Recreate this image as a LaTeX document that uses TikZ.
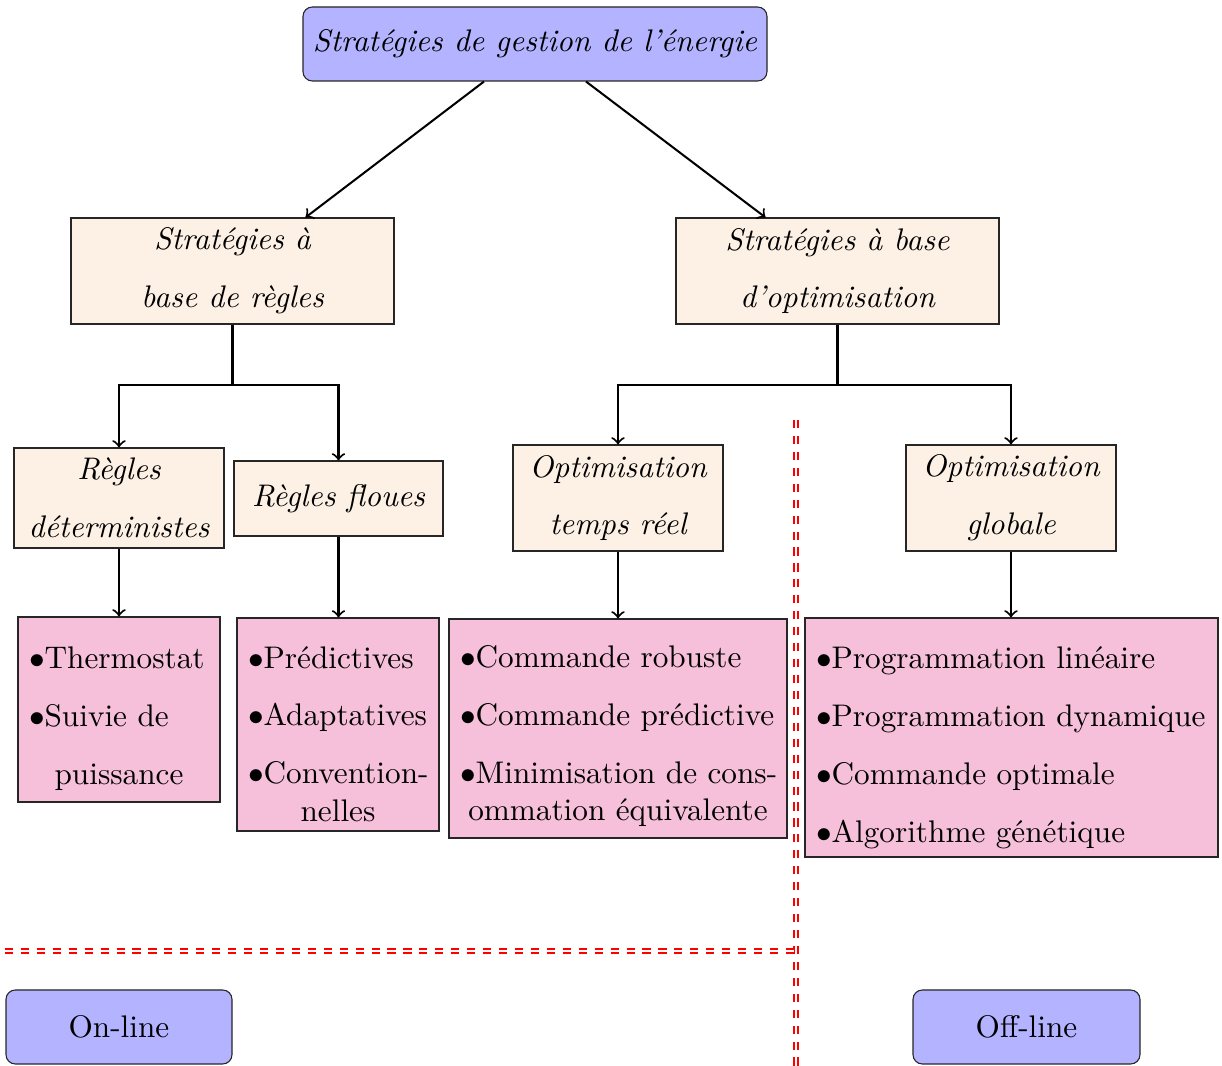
\documentclass[tikz,border=0pt]{standalone}
\usetikzlibrary{calc}
\definecolor{topblue}{RGB}{179,179,255}
\definecolor{beige}{RGB}{253,241,230}
\definecolor{pinkbox}{RGB}{246,192,218}
\tikzset{
  sz/.style 2 args={minimum width={#1*0.32pt}, minimum height={#2*0.32pt}},
  base/.style={draw=black!85, line width=0.35pt, inner sep=0pt, align=center},
  rootbox/.style={base, fill=topblue, rounded corners=3pt, font=\itshape},
  catbox/.style={base, fill=beige, font=\itshape},
  listbox/.style={draw=black!85, line width=0.35pt, fill=pinkbox, inner ysep=0pt, inner xsep=3.52pt, align=left},
  modebox/.style={base, fill=topblue, rounded corners=3pt},
  conn/.style={line width=0.65pt},
  arr/.style={conn, ->},
  sep/.style={draw=red, double=white, double distance=0.5pt, line width=0.6pt, dash pattern=on 2.6pt off 2.5pt}
}
\begin{document}
\begin{tikzpicture}[x=0.32pt,y=-0.32pt]
\useasboundingbox (0,0) rectangle (1222,1066);

\node[rootbox, sz={464}{74}] (root) at (535,44) {Stratégies de gestion de l'énergie};

\node[catbox, sz={323}{106}] (rb) at (232.5,271) {Stratégies à\\[6.5pt] base de règles};
\node[catbox, sz={323}{106}] (ob) at (837.5,271) {Stratégies à base\\[6.5pt] d'optimisation};

\node[catbox, sz={210}{100}] (rd) at (119,498) {Règles\\[6.5pt] déterministes};
\node[catbox, sz={209}{75}] (rf) at (338.5,498.5) {Règles floues};
\node[catbox, sz={210}{106}] (otr) at (618,498) {Optimisation\\[6.5pt] temps réel};
\node[catbox, sz={210}{106}] (og) at (1011,498) {Optimisation\\[6.5pt] globale};

\node[listbox, sz={202}{185}, text width=57.6pt] (p1) at (119,709.5)
  {\rule{0pt}{13pt}$\bullet$Thermostat\\[6.5pt] $\bullet$Suivie de\\[6.5pt] \hfill puissance\hfill\null};
\node[listbox, sz={202}{213}, text width=57.6pt] (p2) at (338,724.5)
  {\rule{0pt}{13pt}$\bullet$Prédictives\\[6.5pt] $\bullet$Adaptatives\\[6.5pt] \mbox{$\bullet$Convention-}\\[0pt] \hfill nelles\hfill\null};
\node[listbox, sz={338}{219}, text width=101.1pt] (p3) at (618,728.5)
  {\rule{0pt}{12pt}$\bullet$Commande~robuste\\[6.5pt] $\bullet$Commande~prédictive\\[6.5pt] \mbox{$\bullet$Minimisation de cons-}\\[0pt] \hfill ommation~équivalente\hfill\null};
\node[listbox, sz={413}{239}, text width=125.1pt] (p4) at (1011.5,737.5)
  {\rule{0pt}{13.5pt}$\bullet$Programmation~linéaire\\[6.5pt] $\bullet$Programmation~dynamique\\[6.5pt] $\bullet$Commande~optimale\\[6.5pt] $\bullet$Algorithme~génétique};

\node[modebox, sz={226}{74}] (on) at (119,1027) {On-line};
\node[modebox, sz={227}{74}] (off) at (1026.5,1027) {Off-line};

% connectors
\draw[arr] ($(root.south)+(-51,0)$) -- ($(rb.north)+(73,0)$);
\draw[arr] ($(root.south)+(51,0)$) -- ($(ob.north)+(-72,0)$);

\draw[conn] (rb.south) -- ++(0,60) coordinate (jl);
\draw[arr] (jl) -| (rd.north);
\draw[arr] (jl) -| (rf.north);
\draw[conn] (ob.south) -- ++(0,60) coordinate (jr);
\draw[arr] (jr) -| (otr.north);
\draw[arr] (jr) -| (og.north);

\draw[arr] (rd.south) -- (p1.north);
\draw[arr] (rf.south) -- (rf.south |- p2.north);
\draw[arr] (otr.south) -- (p3.north);
\draw[arr] (og.south) -- (og.south |- p4.north);

% separators
\coordinate (vtop) at (796,420);
\coordinate (vbot) at (796,1066);
\coordinate (hl) at (5,951);
\coordinate (hr) at (796,951);
\draw[sep] (vtop) -- (vbot);
\draw[sep] (hl) -- (hr);
\end{tikzpicture}
\end{document}
